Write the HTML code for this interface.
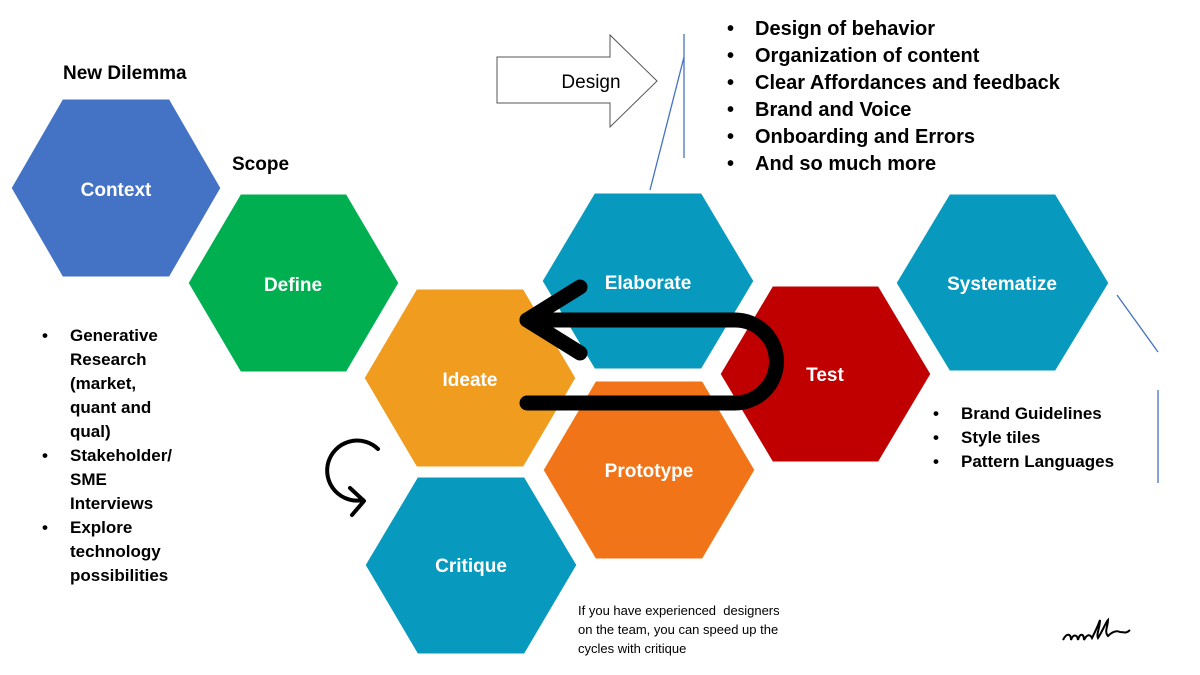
<!DOCTYPE html>
<html><head><meta charset="utf-8"><style>
html,body{margin:0;padding:0;background:#fff;}
body{width:1200px;height:675px;position:relative;overflow:hidden;font-family:"Liberation Sans",Arial,sans-serif;}
svg{position:absolute;left:0;top:0;}
.t{position:absolute;font-weight:bold;color:#000;}
ul{margin:0;padding:0;list-style:none;}
li{position:relative;}
li:before{content:"•";position:absolute;left:-28px;}
</style></head><body>
<svg width="1200" height="675" viewBox="0 0 1200 675">
<g stroke="#fff" stroke-width="3">
<polygon points="10,188 62,98 170,98 222,188 170,278 62,278" fill="#4472C4"/>
<polygon points="187,283 240,193 347,193 400,283 347,373 240,373" fill="#00B050"/>
<polygon points="541,281 594,192 702,192 755,281 702,370 594,370" fill="#0799BE"/>
<polygon points="895,283 949,193 1056,193 1110,283 1056,372 949,372" fill="#0799BE"/>
<polygon points="542,470 595,380 703,380 756,470 703,560 595,560" fill="#F27418"/>
<polygon points="719,374 772,285 879,285 932,374 879,463 772,463" fill="#C00000"/>
<polygon points="363,378 416,288 524,288 577,378 524,468 416,468" fill="#F09C1E"/>
<polygon points="364,565 417,476 525,476 578,565 525,655 417,655" fill="#0799BE"/>
</g>
<g fill="#fff" font-weight="bold" font-size="19" text-anchor="middle" font-family="Liberation Sans,Arial,sans-serif">
<text x="116" y="196">Context</text>
<text x="293" y="291">Define</text>
<text x="648" y="289">Elaborate</text>
<text x="1002" y="290">Systematize</text>
<text x="649" y="477">Prototype</text>
<text x="825" y="381">Test</text>
<text x="470" y="386">Ideate</text>
<text x="471" y="572">Critique</text>
</g>
<polygon points="497,57 610,57 610,35 657,81 610,127 610,103 497,103" fill="#fff" stroke="#555" stroke-width="1"/>
<text x="591" y="88" font-size="19" text-anchor="middle" font-family="Liberation Sans,Arial,sans-serif">Design</text>
<g stroke="#4472C4" stroke-width="1.3" fill="none">
<line x1="684" y1="34" x2="684" y2="158"/>
<line x1="684" y1="57" x2="650" y2="190"/>
<line x1="1117" y1="295" x2="1158" y2="352"/>
<line x1="1158" y1="390" x2="1158" y2="483"/>
</g>
<g stroke="#000" stroke-width="15" fill="none" stroke-linecap="round" stroke-linejoin="round">
<path d="M527,403 L735,403 A41.5,41.5 0 0 0 735,320 L527,320"/>
<path d="M580,287 L527,320 L580,353"/>
</g>
<g stroke="#000" stroke-width="4" fill="none" stroke-linecap="round" stroke-linejoin="round">
<path d="M378,449 A30,30 0 1 0 363,500"/>
<path d="M350,488 L364,501 L352,515"/>
</g>
<path d="M1063,640 c4,-8 8,-6 8,0 c2,-6 6,-6 7,0 c2,-8 6,-6 6,0 c3,-6 6,-6 8,-2 c4,-8 6,-12 8,-18 c0,8 -4,14 -2,18 c4,-6 8,-16 10,-18 c0,6 -4,12 0,16 c4,-4 8,-6 12,-4 c4,0 6,2 10,-2" stroke="#000" stroke-width="2" fill="none"/>
</svg>
<div class="t" style="left:63px;top:63px;font-size:19px;">New Dilemma</div>
<div class="t" style="left:232px;top:154px;font-size:19px;">Scope</div>
<ul class="t" style="left:755px;top:16px;font-size:20px;line-height:27px;">
<li>Design of behavior</li><li>Organization of content</li><li>Clear Affordances and feedback</li><li>Brand and Voice</li><li>Onboarding and Errors</li><li>And so much more</li>
</ul>
<ul class="t" style="left:70px;top:324px;font-size:17px;line-height:24px;width:110px;">
<li>Generative Research (market, quant and qual)</li><li>Stakeholder/ SME Interviews</li><li>Explore technology possibilities</li>
</ul>
<ul class="t" style="left:961px;top:402px;font-size:17px;line-height:24px;">
<li>Brand Guidelines</li><li>Style tiles</li><li>Pattern Languages</li>
</ul>
<div style="position:absolute;left:578px;top:601px;font-size:13px;line-height:19px;color:#000;">If you have experienced&nbsp; designers<br>on the team, you can speed up the<br>cycles with critique</div>
</body></html>
